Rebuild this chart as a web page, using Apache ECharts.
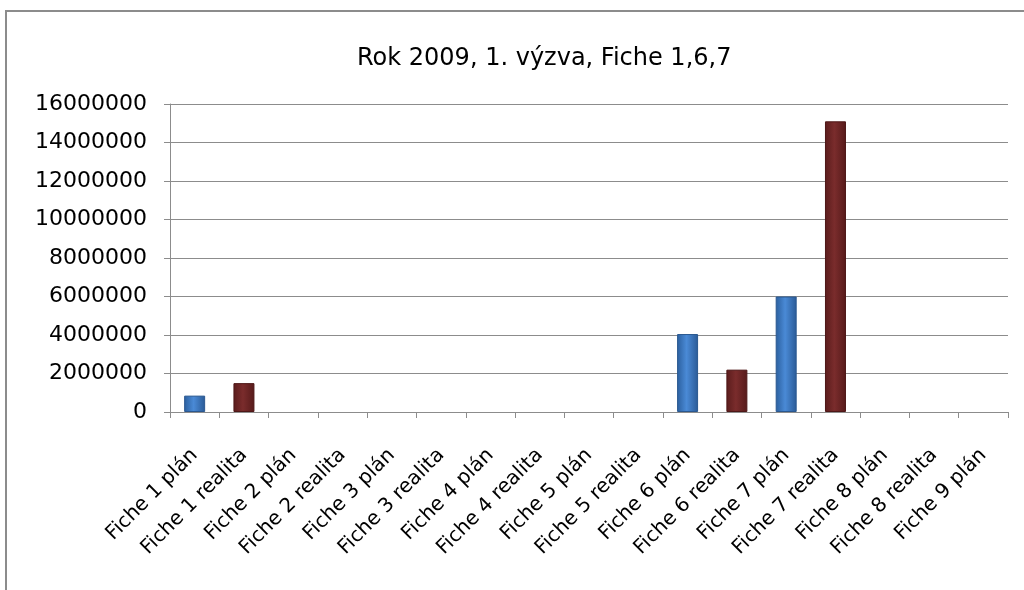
<!DOCTYPE html>
<html>
<head>
<meta charset="utf-8">
<script src="https://cdn.jsdelivr.net/npm/echarts@6/dist/echarts.min.js"></script>
<style>
	html, body { margin: 0; padding: 0; background: #fff; }
	#chart { width: 1024px; height: 590px; }
</style>
</head>
<body>
<div id="chart"></div>
<script>
/**
 * data
 * **/
var categories = ['Fiche 1 plán', 'Fiche 1 realita', 'Fiche 2 plán', 'Fiche 2 realita', 'Fiche 3 plán', 'Fiche 3 realita',
	'Fiche 4 plán', 'Fiche 4 realita', 'Fiche 5 plán', 'Fiche 5 realita', 'Fiche 6 plán', 'Fiche 6 realita',
	'Fiche 7 plán', 'Fiche 7 realita', 'Fiche 8 plán', 'Fiche 8 realita', 'Fiche 9 plán'];
var values = [850000, 1500000, 0, 0, 0, 0, 0, 0, 0, 0, 4050000, 2200000, 6000000, 15100000, 0, 0, 0];
var yTicks = { min: 0, max: 16000000, interval: 2000000 };

// plán = modrá, realita = tmavě červená
function barColor(name) {
	if (name.indexOf('plán') >= 0) {
		return new echarts.graphic.LinearGradient(0, 0, 1, 0, [
			{ offset: 0, color: '#2b5f9e' },
			{ offset: 0.45, color: '#4a8ad6' },
			{ offset: 1, color: '#2a5a96' }
		]);
	}
	return new echarts.graphic.LinearGradient(0, 0, 1, 0, [
		{ offset: 0, color: '#5a1c1c' },
		{ offset: 0.45, color: '#7a2c2c' },
		{ offset: 1, color: '#561a1a' }
	]);
}

var barData = values.map(function(v, i) {
	var plan = categories[i].indexOf('plán') >= 0;
	return {
		value: v,
		itemStyle: {
			color: barColor(categories[i]),
			borderColor: plan ? '#2a5890' : '#4e1717',
			borderWidth: v > 0 ? 1 : 0
		}
	};
});

var myChart = echarts.init(document.getElementById('chart'));
var option = {
	animation: false,
	title: {
		text: 'Rok 2009, 1. výzva, Fiche 1,6,7',
		left: 352,
		top: 42,
		textStyle: {
			fontFamily: 'DejaVu Sans',
			fontSize: 24,
			fontWeight: 'normal',
			color: '#000'
		}
	},
	graphic: [{
		type: 'rect',
		shape: { x: 6, y: 11, width: 1100, height: 700 },
		style: { fill: 'none', stroke: '#8c8c8c', lineWidth: 2 }
	}],
	grid: {
		left: 170,
		right: 16,
		top: 104,
		bottom: 178
	},
	xAxis: {
		type: 'category',
		data: categories,
		axisLine: { lineStyle: { color: '#8c8c8c', width: 1 } },
		axisTick: { show: true, length: 6, lineStyle: { color: '#8c8c8c' } },
		axisLabel: {
			interval: 0,
			rotate: 45,
			margin: 40,
			fontFamily: 'DejaVu Sans',
			fontSize: 20,
			color: '#000'
		}
	},
	yAxis: {
		type: 'value',
		min: yTicks.min,
		max: yTicks.max,
		interval: yTicks.interval,
		axisLine: { show: true, lineStyle: { color: '#8c8c8c' } },
		axisTick: { show: true, length: 6, lineStyle: { color: '#8c8c8c' } },
		splitLine: { lineStyle: { color: '#8c8c8c', width: 1 } },
		axisLabel: {
			margin: 23,
			fontFamily: 'DejaVu Sans',
			fontSize: 22,
			color: '#000',
			formatter: function(v) { return String(v); }
		}
	},
	series: [{
		type: 'bar',
		barWidth: 21,
		data: barData
	}]
};
myChart.setOption(option);
</script>
</body>
</html>
